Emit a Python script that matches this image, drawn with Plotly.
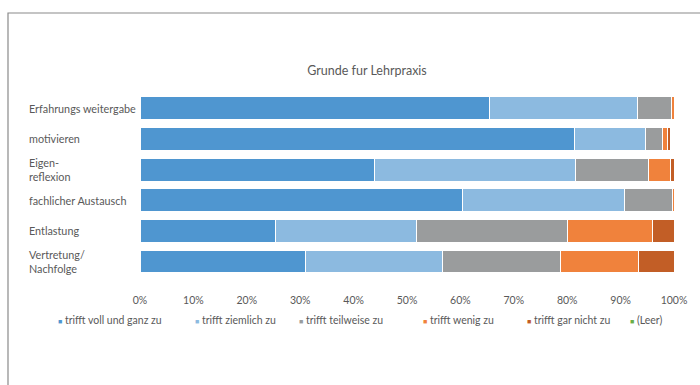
import plotly.graph_objects as go

categories = ["Erfahrungs weitergabe", "motivieren", "Eigen-<br>reflexion",
              "fachlicher Austausch", "Entlastung", "Vertretung/<br>Nachfolge"]
series_names = ["trifft voll und ganz zu", "trifft ziemlich zu", "trifft teilweise zu",
                "trifft wenig zu", "trifft gar nicht zu", "(Leer)"]
voll = [65.5, 81.3, 44.0, 60.3, 25.3, 30.9]
ziemlich = [27.6, 13.3, 37.5, 30.5, 26.4, 25.8]
teilweise = [6.5, 3.2, 13.8, 9.0, 28.3, 22.1]
wenig = [0.4, 0.9, 4.1, 0.2, 15.9, 14.6]
garnicht = [0.0, 0.6, 0.6, 0.0, 4.1, 6.6]
leer = [0, 0, 0, 0, 0, 0]
title_text = "Grunde fur Lehrpraxis"

colors = ["#4F96D0", "#8CBAE0", "#9A9C9D", "#F0823C", "#C25E26", "#6AAE47"]
values = [voll, ziemlich, teilweise, wenig, garnicht, leer]
legend_px = [56, 193, 297, 421, 525, 628]   # legend entry left edges (pixels)

FONT = "Lato"
TXT = "#595959"

fig = go.Figure()
for name, vals, col in zip(series_names, values, colors):
    fig.add_trace(go.Bar(
        y=categories, x=[v / 100 for v in vals], name=name, orientation="h",
        marker=dict(color=col, line=dict(color="white", width=1)),
        hoverinfo="x+name",
    ))

# plot area geometry (pixels)
L, R, T, B = 140, 26, 93, 108
W, H = 700, 385
pw = W - L - R
ph = H - T - B

def px_x(p):
    return (p - L) / pw

def px_y(p):
    return (H - B - p) / ph

annotations = []
for c in categories:
    annotations.append(dict(
        x=px_x(27), xref="paper", y=c, yref="y", text=c, showarrow=False,
        xanchor="left", yanchor="middle", align="left",
        font=dict(family=FONT, size=10.8, color=TXT),
    ))
for name, col, lx in zip(series_names, colors, legend_px):
    annotations.append(dict(
        x=px_x(lx), xref="paper", y=px_y(320), yref="paper",
        text=f'<span style="color:{col};font-size:7px">■</span> {name}',
        showarrow=False, xanchor="left", yanchor="middle",
        font=dict(family=FONT, size=10.5, color=TXT),
    ))

fig.update_layout(
    width=W, height=H,
    barmode="stack", bargap=0.25,
    margin=dict(l=L, r=R, t=T, b=B, autoexpand=False),
    paper_bgcolor="white", plot_bgcolor="white",
    font=dict(family=FONT, size=10.5, color=TXT),
    title=dict(text=title_text, x=px_x(367), xref="paper", xanchor="center",
               y=1 - 71 / H, yref="container", yanchor="middle",
               font=dict(family=FONT, size=12.5, color=TXT)),
    xaxis=dict(range=[0, 1], tickvals=[i / 10 for i in range(11)], tickformat=".0%",
               showgrid=False, zeroline=False, showline=False, ticks="",
               ticklabelstandoff=15, tickfont=dict(family=FONT, size=10.5, color=TXT),
               fixedrange=True),
    yaxis=dict(autorange="reversed", showticklabels=False, showgrid=False,
               zeroline=False, showline=False, ticks="", fixedrange=True),
    annotations=annotations,
    shapes=[dict(type="rect", xref="paper", yref="paper",
                 x0=px_x(8), x1=px_x(720), y0=px_y(400), y1=px_y(13),
                 line=dict(color="#8A8A8A", width=1.2), fillcolor="rgba(0,0,0,0)",
                 layer="below")],
    showlegend=False,
)

fig.write_html("out.html", config={"displayModeBar": False},
               post_script="document.body.style.margin='0';")
